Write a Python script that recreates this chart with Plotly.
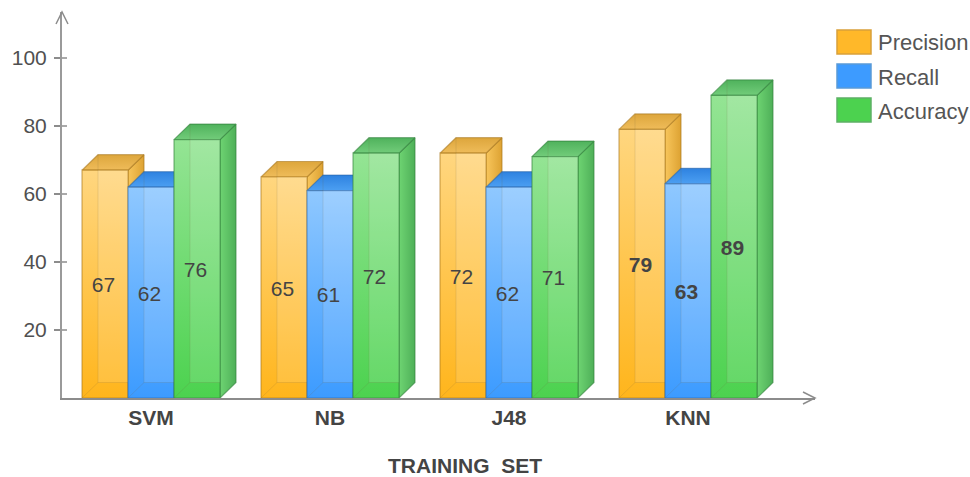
import plotly.graph_objects as go

categories = ["SVM", "NB", "J48", "KNN"]
series_names = ["Precision", "Recall", "Accuracy"]
precision = [67, 65, 72, 79]
recall = [62, 61, 62, 63]
accuracy = [76, 72, 71, 89]
y_ticks = [20, 40, 60, 80, 100]

FONT = "Liberation Sans, Arial, sans-serif"
TEXT = "#444444"
BAR_W = 46 / 179
DX = 16 / 179
DY = 15.5 / 3.4

styles = [
    dict(top="#FFD67F", bot="#FFB51C", side=("#F8C65C", "#DDA232"), roof=("#DDA63C", "#EFBC5A"), edge="rgba(170,120,30,0.6)", sw="#FFB829", swe="#D9A03A"),
    dict(top="#8FC8FF", bot="#3C9BFF", side=("#4A9EF0", "#3A86DA"), roof=("#2E82E0", "#4C9FF2"), edge="rgba(40,100,170,0.55)", sw="#3D9BFF", swe="#5A9AD8"),
    dict(top="#94E494", bot="#4CD24F", side=("#6ED472", "#4EAF58"), roof=("#4FB25C", "#72CC7A"), edge="rgba(50,130,60,0.6)", sw="#4CD24F", swe="#5DB066"),
]
values = [precision, recall, accuracy]

fig = go.Figure()


def poly(xs, ys, c0, c1, orient, edge):
    fig.add_trace(go.Scatter(
        x=xs + xs[:1], y=ys + ys[:1], mode="lines", fill="toself",
        line=dict(color=edge, width=1.2),
        fillgradient=dict(type=orient, colorscale=[[0, c0], [1, c1]]),
        hoverinfo="skip", showlegend=False))


def seg(xs, ys, edge):
    fig.add_trace(go.Scatter(x=xs, y=ys, mode="lines", line=dict(color=edge, width=1),
                             hoverinfo="skip", showlegend=False))


# base bars from the data
for s, (name, vals, st) in enumerate(zip(series_names, values, styles)):
    fig.add_trace(go.Bar(x=[i + (s - 1) * BAR_W for i in range(len(categories))], y=vals,
                         width=BAR_W, name=name, marker=dict(color=st["bot"], line=dict(width=0)),
                         showlegend=False))

# 3D faces computed from the data, left to right so nearer bars overlap
for i in range(len(categories)):
    for s, (vals, st) in enumerate(zip(values, styles)):
        v = vals[i]
        x0 = i + (s - 1) * BAR_W - BAR_W / 2
        x1 = x0 + BAR_W
        edge = st["edge"]
        poly([x1, x1 + DX, x1 + DX, x1], [0, DY, v + DY, v], st["side"][0], st["side"][1], "horizontal", edge)
        poly([x0, x1, x1 + DX, x0 + DX], [v, v, v + DY, v + DY], st["roof"][1], st["roof"][0], "vertical", edge)
        poly([x0, x1, x1, x0], [0, 0, v, v], st["bot"], st["top"], "vertical", edge)
        # see-through back of the box
        fig.add_trace(go.Scatter(x=[x0 + DX, x1, x1, x0 + DX, x0 + DX], y=[DY, DY, v, v, DY], mode="lines",
                                 fill="toself", fillcolor="rgba(255,255,255,0.13)", line=dict(width=0),
                                 hoverinfo="skip", showlegend=False))
        seg([x0, x0 + DX, x0 + DX], [0, DY, v + DY], "rgba(120,100,60,0.16)")
        seg([x0 + DX, x1], [DY, DY], "rgba(120,100,60,0.16)")

# data labels
LABEL_DX = -1.5 / 179
LABEL_DY = -0.85
for s, vals in enumerate(values):
    fig.add_trace(go.Scatter(
        x=[i + (s - 1) * BAR_W + LABEL_DX for i in range(len(categories))],
        y=[v / 2 + LABEL_DY for v in vals], mode="text",
        text=[f"<b>{v}</b>" if categories[i] == "KNN" else str(v) for i, v in enumerate(vals)],
        textfont=dict(family=FONT, size=21, color=TEXT), textposition="middle center",
        hoverinfo="skip", showlegend=False))

shapes = []
# axis arrow heads (fixed pixel size, anchored at the axis ends)
shapes.append(dict(type="path", xref="paper", yref="paper", xsizemode="pixel", ysizemode="pixel",
                   xanchor=1, yanchor=0, path="M -12 -6 L 0 0 L -12 6", line=dict(color="#8C8C8C", width=1.5)))
shapes.append(dict(type="path", xref="paper", yref="paper", xsizemode="pixel", ysizemode="pixel",
                   xanchor=0, yanchor=1, path="M -6 -12 L 0 0 L 6 -12", line=dict(color="#8C8C8C", width=1.5)))
# inner half of y ticks
for t in y_ticks:
    shapes.append(dict(type="line", xref="paper", yref="y", x0=0, x1=5 / 753, y0=t, y1=t,
                       line=dict(color="#8C8C8C", width=1.5)))

# legend
W, H = 970, 477
annotations = []
for k, (name, st) in enumerate(zip(series_names, styles)):
    y0, y1 = 30 + 34 * k, 54 + 34 * k
    shapes.append(dict(type="rect", xref="paper", yref="paper",
                       x0=(837 - 62) / 753, x1=(871 - 62) / 753,
                       y0=(398 - y1) / 386, y1=(398 - y0) / 386,
                       fillcolor=st["sw"], line=dict(color=st["swe"], width=1.5)))
    annotations.append(dict(text=name, xref="paper", yref="paper", showarrow=False,
                            x=(876 - 62) / 753, y=(398 - (y0 + 13)) / 386, xanchor="left", yanchor="middle",
                            font=dict(family=FONT, size=22, color="#555555")))
annotations.append(dict(text="<b>TRAINING\u00a0 SET</b>", xref="paper", yref="paper", showarrow=False,
                        x=(465 - 62) / 753, y=(398 - 465) / 386, xanchor="center", yanchor="middle",
                        font=dict(family=FONT, size=21, color=TEXT)))

fig.update_layout(
    width=W, height=H, margin=dict(l=62, r=155, t=12, b=79),
    paper_bgcolor="white", plot_bgcolor="white", barmode="overlay", showlegend=False,
    xaxis=dict(range=[-89 / 179, 664 / 179], tickmode="array", tickvals=list(range(len(categories))),
               ticktext=[f"<b>{c}</b>" for c in categories], showgrid=False, zeroline=False,
               showline=True, linecolor="#8C8C8C", linewidth=2, ticks="",
               tickfont=dict(family=FONT, size=21, color=TEXT)),
    yaxis=dict(range=[0, 386 / 3.4], tickmode="array", tickvals=y_ticks, showgrid=False, zeroline=False,
               showline=True, linecolor="#9A9A9A", linewidth=2, ticks="outside", ticklen=6, tickcolor="#8C8C8C",
               tickwidth=1.5, ticklabelstandoff=3, tickfont=dict(family=FONT, size=21, color="#505050")),
    shapes=shapes, annotations=annotations,
)
fig.write_html("out.html", post_script="document.body.style.margin='0';", config=dict(displayModeBar=False))
